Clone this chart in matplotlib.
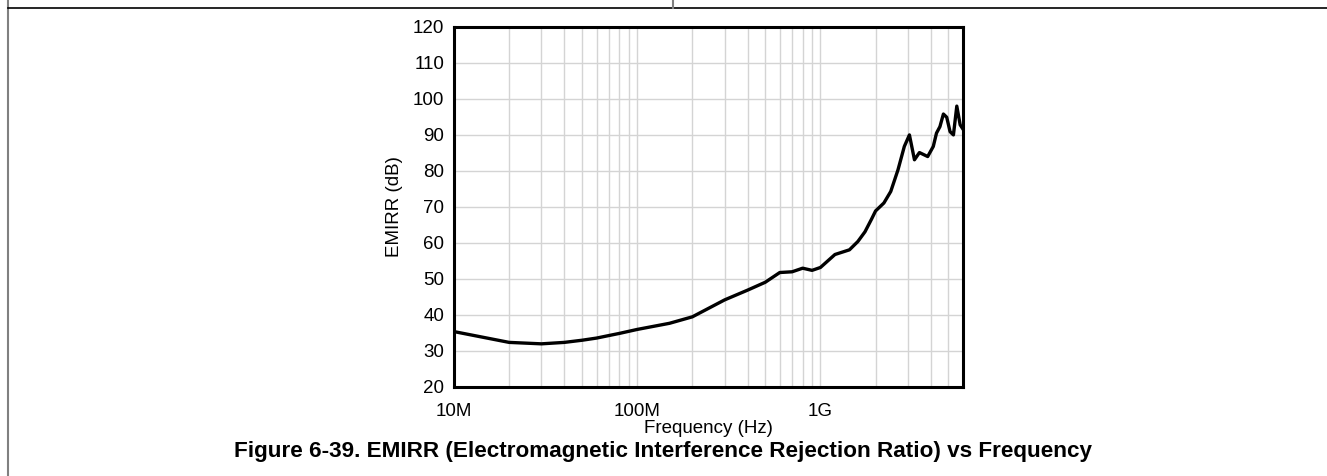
import numpy as np
import matplotlib
matplotlib.use("Agg")
import matplotlib.pyplot as plt
from matplotlib.ticker import FixedLocator, NullFormatter
from matplotlib.lines import Line2D

plt.rcParams["font.family"] = ["Liberation Sans", "DejaVu Sans"]

# EMIRR measurement (frequency in Hz, rejection in dB)
freq_hz = [
    10e6, 20e6, 30e6, 40e6, 50e6, 60e6, 70e6, 80e6, 100e6, 150e6, 200e6,
    300e6, 400e6, 500e6, 600e6, 700e6, 800e6, 900e6, 1.0e9, 1.2e9, 1.44e9,
    1.6e9, 1.75e9, 1.9e9, 2.0e9, 2.22e9, 2.42e9, 2.65e9, 2.87e9, 3.06e9,
    3.26e9, 3.47e9, 3.85e9, 4.13e9, 4.3e9, 4.49e9, 4.69e9, 4.89e9, 5.1e9,
    5.32e9, 5.55e9, 5.79e9, 6.0e9,
]
emirr_db = [
    35.3, 32.3, 31.9, 32.3, 32.9, 33.5, 34.2, 34.8, 35.9, 37.6, 39.4,
    44.1, 46.8, 49.0, 51.7, 51.9, 52.9, 52.3, 53.1, 56.7, 58.0,
    60.3, 63.0, 66.5, 68.8, 71.0, 74.2, 80.2, 86.7, 89.9,
    83.0, 85.0, 83.9, 86.7, 90.4, 92.2, 95.7, 94.8, 90.8,
    89.9, 97.9, 92.7, 91.5,
]

x_major = [10e6, 100e6, 1e9]
x_major_labels = ["10M", "100M", "1G"]
y_ticks = [20, 30, 40, 50, 60, 70, 80, 90, 100, 110, 120]

W, H = 1327, 476
fig = plt.figure(figsize=(W / 100, H / 100), dpi=100)

# page frame lines
fig.add_artist(Line2D([8 / W, 8 / W], [0, 1], color="#808080", lw=1.5,
                      transform=fig.transFigure))
fig.add_artist(Line2D([8 / W, 1], [1 - 8 / H, 1 - 8 / H], color="black", lw=1.2,
                      transform=fig.transFigure))
fig.add_artist(Line2D([673 / W, 673 / W], [1 - 8 / H, 1], color="#808080", lw=1.5,
                      transform=fig.transFigure))

left, right, top, bottom = 454, 963, 26.5, 386.7
ax = fig.add_axes([left / W, 1 - bottom / H, (right - left) / W, (bottom - top) / H])

ax.plot(freq_hz, emirr_db, color="black", lw=2.4, solid_joinstyle="round", zorder=3)

ax.set_xscale("log")
ax.set_xlim(10e6, 6e9)
ax.set_ylim(20, 120)

ax.xaxis.set_major_locator(FixedLocator(x_major))
ax.set_xticklabels(x_major_labels)
minor = [m * d for d in (10e6, 100e6, 1e9) for m in range(2, 10) if m * d < 6e9]
ax.xaxis.set_minor_locator(FixedLocator(minor))
ax.xaxis.set_minor_formatter(NullFormatter())
ax.set_yticks(y_ticks)

ax.grid(True, which="both", color="#d4d4d4", lw=1.0, zorder=0)
ax.set_axisbelow(True)
ax.tick_params(which="both", length=0)
ax.tick_params(axis="x", pad=12, labelsize=13.5)
ax.tick_params(axis="y", pad=7, labelsize=13.5)

for s in ax.spines.values():
    s.set_linewidth(2.2)
    s.set_color("black")

ax.set_xlabel("Frequency (Hz)", fontsize=13.5, labelpad=0)
ax.set_ylabel("EMIRR (dB)", fontsize=13.5, labelpad=7)

fig.text(0.5, 1 - 452 / H,
         "Figure 6-39. EMIRR (Electromagnetic Interference Rejection Ratio) vs Frequency",
         ha="center", va="center", fontsize=16.2, fontweight="bold")

fig.savefig("out.png", dpi=100)
